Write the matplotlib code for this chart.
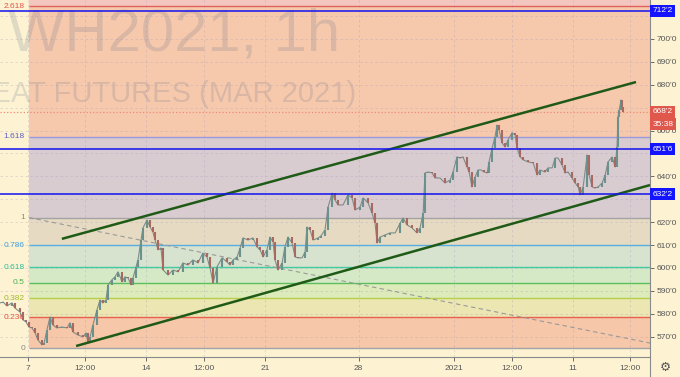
import matplotlib
matplotlib.use("Agg")
import matplotlib.pyplot as plt
import matplotlib.transforms as mtransforms
from matplotlib.lines import Line2D

# hourly wheat trace
# time = trading days since the Dec 7 session, price = cents/bushel
times = [-1.18, -1.05, -0.89, -0.68, -0.55, -0.34, -0.21, -0.08, 0.04, 0.17,
         0.30, 0.42, 0.59, 0.68, 0.80, 0.93, 1.05, 1.22, 1.43, 1.65,
         1.77, 1.90, 2.11, 2.32, 2.45, 2.53, 2.62, 2.74, 2.91, 3.04,
         3.16, 3.29, 3.38, 3.54, 3.67, 3.80, 3.97, 4.09, 4.22, 4.35,
         4.43, 4.56, 4.64, 4.77, 4.85, 5.02, 5.15, 5.27, 5.36, 5.49,
         5.61, 5.70, 5.91, 6.12, 6.33, 6.54, 6.75, 6.96, 7.17, 7.38,
         7.55, 7.68, 7.81, 7.97, 8.19, 8.40, 8.52, 8.65, 8.82, 8.95,
         9.07, 9.28, 9.49, 9.66, 9.79, 9.92, 10.08, 10.21, 10.34, 10.42,
         10.55, 10.72, 10.84, 10.97, 11.14, 11.27, 11.39, 11.56, 11.69, 11.77,
         11.90, 12.03, 12.24, 12.36, 12.53, 12.66, 12.83, 12.95, 13.08, 13.29,
         13.50, 13.67, 13.80, 14.01, 14.14, 14.35, 14.51, 14.64, 14.73, 14.85,
         15.06, 15.27, 15.49, 15.70, 15.82, 15.99, 16.20, 16.41, 16.54, 16.67,
         16.75, 16.88, 17.05, 17.17, 17.38, 17.59, 17.81, 17.93, 18.10, 18.23,
         18.35, 18.52, 18.61, 18.73, 18.86, 18.99, 19.11, 19.24, 19.37, 19.45,
         19.58, 19.70, 19.79, 19.87, 20.00, 20.13, 20.25, 20.42, 20.55, 20.63,
         20.76, 20.89, 21.10, 21.31, 21.48, 21.60, 21.81, 21.94, 22.11, 22.24,
         22.36, 22.53, 22.66, 22.78, 22.95, 23.08, 23.21, 23.29, 23.42, 23.59,
         23.67, 23.80, 23.92, 24.05, 24.22, 24.35, 24.47, 24.64, 24.77, 24.85,
         24.89, 24.94, 25.02, 25.06, 25.11]
closes = [584.7, 585.1, 583.4, 584.7, 582.5, 580.8, 577.3, 576.4, 574.2, 573.8,
          571.6, 568.6, 566.4, 567.2, 572.9, 578.6, 575.1, 573.8, 574.2, 573.8,
          576.0, 572.0, 570.7, 569.9, 571.6, 567.7, 569.9, 575.1, 581.7, 586.0,
          584.7, 586.0, 592.6, 594.8, 596.1, 598.3, 593.9, 596.1, 595.6, 592.6,
          595.6, 600.4, 603.5, 612.2, 617.5, 620.9, 617.9, 615.7, 612.2, 607.9,
          608.7, 599.1, 596.9, 599.1, 598.3, 602.2, 601.3, 603.5, 602.2, 606.5,
          604.8, 600.0, 593.4, 600.4, 604.4, 602.6, 601.3, 603.5, 604.8, 608.7,
          613.1, 612.2, 613.1, 609.2, 607.9, 604.8, 607.9, 613.5, 611.3, 603.5,
          599.1, 602.2, 609.2, 613.5, 610.9, 604.8, 604.4, 604.4, 607.0, 617.9,
          616.6, 612.2, 613.1, 614.0, 616.6, 626.6, 632.7, 629.7, 627.5, 627.5,
          631.9, 630.6, 625.3, 626.6, 630.6, 628.4, 624.0, 619.6, 610.9, 613.5,
          614.4, 615.3, 615.3, 619.6, 621.8, 618.8, 617.5, 615.3, 617.5, 624.0,
          641.5, 641.9, 641.5, 639.3, 639.3, 637.1, 638.4, 641.9, 648.5, 648.0,
          648.5, 644.1, 641.9, 635.4, 639.7, 642.8, 642.8, 641.9, 641.5, 646.3,
          652.4, 657.2, 662.4, 660.3, 654.6, 652.8, 655.9, 659.0, 658.1, 652.4,
          648.5, 647.2, 646.3, 645.9, 640.6, 642.8, 641.9, 643.7, 643.7, 648.0,
          648.0, 645.0, 641.5, 641.9, 639.3, 637.1, 635.4, 631.9, 635.4, 649.3,
          640.6, 635.4, 634.9, 635.4, 637.1, 640.6, 646.3, 648.5, 644.1, 652.8,
          665.9, 669.0, 673.4, 670.3, 668.2]

# fibonacci retracement
fib_start = 0.04
fib_low, fib_high = 565.0, 622.0
fib_levels = [0, 0.236, 0.382, 0.5, 0.618, 0.786, 1, 1.618, 2.618, 3.618]
fib_labels = ['0', '0.236', '0.382', '0.5', '0.618', '0.786', '1', '1.618', '2.618']
fib_line_colors = ['#a3a3a3', '#e8604f', '#b6cf4a', '#5cbf5c', '#45c9a3',
                   '#58aee0', '#a3a3a3', '#9a98dc', '#e0605a']
fib_text_colors = ['#8a8a8a', '#e05548', '#9dba2a', '#4caf50', '#2bbf98',
                   '#43a0dc', '#8a8a8a', '#5c5fc4', '#e05548']
fib_band_colors = ['#f6c7a9', '#ece7b2', '#dcebb9', '#d5e9c7', '#d7e2cf',
                   '#e6dbc2', '#d9ccd1', '#f6c9ad', '#f3c6c0']

# horizontal levels and price tags
h_levels = [712.25, 651.75, 632.25]
h_labels = ["712'2", "651'6", "632'2"]
last_price = 668.25
last_label = "668'2"
countdown = "35:38"

# channel and fib trend line
upper_t, upper_p = [1.43, 25.65], [612.7, 681.2]
lower_t, lower_p = [2.03, 26.24], [565.9, 636.2]
trend_t, trend_p = [0.04, 26.24], [622.0, 567.2]

price_ticks = list(range(570, 720, 10))
hidden_ticks = [710, 670, 650, 630]   # covered by the price tags
date_ticks = [0, 2.42, 5, 7.42, 10, 13.95, 17.97, 20.41, 23, 25.39]
date_labels = ['7', '12:00', '14', '12:00', '21', '28', '2021', '12:00', '11', '12:00']

bg = '#fdf3d3'
x0, x1 = -1.18, 26.24

plt.rcParams['font.family'] = ['Liberation Sans', 'DejaVu Sans']
fig = plt.figure(figsize=(6.8, 3.77), dpi=100, facecolor=bg)
ax = fig.add_axes([0, 20 / 377, 650 / 680, 357 / 377])
ax.set_facecolor(bg)
ax.set_xlim(x0, x1)
ax.set_ylim(561.1, 717.03)

# fib bands, lines and labels
rng = fib_high - fib_low
for i in range(len(fib_levels) - 1):
    lo = fib_low + fib_levels[i] * rng
    hi = fib_low + fib_levels[i + 1] * rng
    ax.fill_between([fib_start, x1], lo, hi, color=fib_band_colors[i], lw=0, zorder=1)
    ax.hlines(lo, fib_start, x1, color=fib_line_colors[i], lw=1.0, zorder=2)
    ax.text(fib_start - 0.17, lo, fib_labels[i], ha='right', va='center',
            fontsize=6, color=fib_text_colors[i], zorder=3)

# watermark
wm = dict(transform=ax.transAxes, color='#787b86', alpha=0.22, va='baseline', zorder=1.6)
ax.text(8 / 650, 1 - 50 / 357, 'WH2021, 1h', fontsize=43, ha='left', **wm)
ax.text(356 / 650, 1 - 102 / 357, 'WHEAT FUTURES (MAR 2021)', fontsize=21, ha='right', **wm)

# grid
ax.set_xticks(date_ticks)
ax.set_xticklabels(date_labels)
ax.set_yticks(price_ticks)
ax.set_yticklabels(["" if p in hidden_ticks else f"{p}'0" for p in price_ticks])
ax.grid(True, color='#a898b8', ls=(0, (3, 3)), lw=0.6, alpha=0.35)
ax.set_axisbelow('line')

# fib trend line, current price line
ax.plot(trend_t, trend_p, color='#9a9a9a', ls=(0, (4, 3)), lw=0.8, zorder=3)
ax.axhline(last_price, color='#ee8a7a', ls=':', lw=0.9, zorder=3)

# candles: open = previous close
opens = [closes[0]] + closes[:-1]
up = [c >= o for o, c in zip(opens, closes)]
ax.plot(times, closes, color='#7f8c88', lw=0.8, zorder=4)
ax.vlines([t for t, u in zip(times, up) if u],
          [o for o, u in zip(opens, up) if u],
          [c for c, u in zip(closes, up) if u], color='#6a918c', lw=1.5, zorder=4.5)
ax.vlines([t for t, u in zip(times, up) if not u],
          [o for o, u in zip(opens, up) if not u],
          [c for c, u in zip(closes, up) if not u], color='#a86a60', lw=1.5, zorder=4.5)

# channel
ax.plot(upper_t, upper_p, color='#1f5a17', lw=1.8, zorder=5, solid_capstyle='butt')
ax.plot(lower_t, lower_p, color='#1f5a17', lw=1.8, zorder=5, solid_capstyle='butt')

# blue horizontal levels
for p in h_levels:
    ax.axhline(p, color='#1212f0', lw=1.1, zorder=6)

# axes styling
for s in ['top', 'left']:
    ax.spines[s].set_visible(False)
for s in ['right', 'bottom']:
    ax.spines[s].set_color('#8a8a8a')
    ax.spines[s].set_linewidth(0.8)
ax.yaxis.tick_right()
ax.tick_params(axis='y', labelsize=6, colors='#555555', length=3, pad=2, width=0.6)
ax.tick_params(axis='x', labelsize=6, colors='#555555', length=3, pad=3, width=0.6)

# price tags on the right axis
trans = mtransforms.blended_transform_factory(ax.transAxes, ax.transData)
for p, lab in zip(h_levels, h_labels):
    ax.text(1.004, p, lab, transform=trans, ha='left', va='center', fontsize=6,
            color='white', clip_on=False, zorder=10,
            bbox=dict(boxstyle='square,pad=0.3', fc='#1414ff', ec='none'))
ax.text(1.004, last_price, last_label, transform=trans, ha='left', va='center',
        fontsize=6, color='white', clip_on=False, zorder=10,
        bbox=dict(boxstyle='square,pad=0.3', fc='#e0574b', ec='none'))
ax.annotate(countdown, xy=(1.004, last_price), xycoords=trans, xytext=(0, -9),
            textcoords='offset points', ha='left', va='center', fontsize=6,
            color='white', annotation_clip=False, zorder=10,
            bbox=dict(boxstyle='square,pad=0.3', fc='#e0574b', ec='none'))

# bottom-right corner
fig.add_artist(Line2D([650 / 680, 650 / 680], [0, 20 / 377], color='#8a8a8a', lw=0.8))
fig.text(665 / 680, 1 - 367 / 377, '\u2699', fontsize=9, ha='center', va='center',
         color='#555555', family='DejaVu Sans')

fig.savefig('out.png', dpi=100, facecolor=bg)
